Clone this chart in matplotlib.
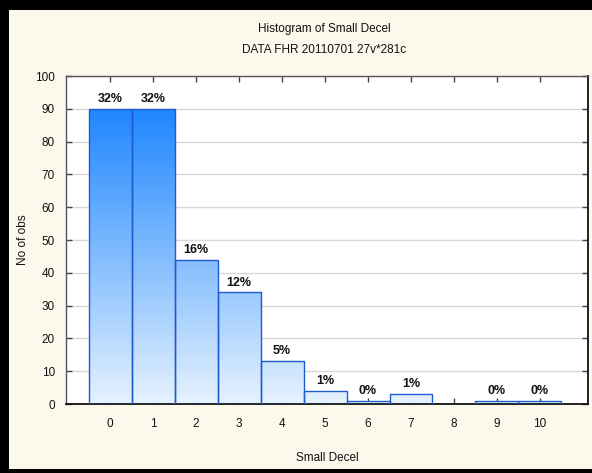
import numpy as np
import matplotlib.pyplot as plt
from matplotlib.colors import LinearSegmentedColormap
from matplotlib.patches import Rectangle

# histogram counts for Small Decel (281 cases)
categories = [0, 1, 2, 3, 4, 5, 6, 7, 8, 9, 10]
counts = [90, 90, 44, 34, 13, 4, 1, 3, 0, 1, 1]
yticks = [0, 10, 20, 30, 40, 50, 60, 70, 80, 90, 100]

total = sum(counts)
pct_labels = [f"{round(100 * c / total)}%" for c in counts]

plt.rcParams['font.family'] = ['Liberation Sans Narrow', 'Liberation Sans', 'DejaVu Sans']

bg = '#fdf8ec'
fig = plt.figure(figsize=(5.92, 4.73), dpi=100, facecolor=bg)
ax = fig.add_axes([66 / 592, 1 - 404 / 473, 522 / 592, 328 / 473])
ax.set_facecolor('white')

# vertical gradient: light at the base, bright blue at the top
cmap = LinearSegmentedColormap.from_list('bars', ['#e6f2ff', '#1e86fe'])
grad = np.linspace(0, 1, 256).reshape(-1, 1)

for x, c in zip(categories, counts):
    if c == 0:
        continue
    rect = Rectangle((x - 0.5, 0), 1.0, c, facecolor='none',
                     edgecolor='#1f5bd0', linewidth=1.0, zorder=3)
    ax.add_patch(rect)
    im = ax.imshow(grad, cmap=cmap, origin='lower', aspect='auto',
                   extent=(x - 0.5, x + 0.5, 0, 90), zorder=2,
                   interpolation='bilinear')
    im.set_clip_path(rect)

for x, c, lab in zip(categories, counts, pct_labels):
    if c == 0:
        continue
    ax.text(x, c + 1.2, lab, ha='center', va='bottom', fontsize=9,
            fontweight='bold', color='#111111', zorder=4)

ax.set_xlim(-1.03, 11.12)
ax.set_ylim(0, 100)
ax.set_xticks(categories)
ax.set_yticks(yticks)
ax.yaxis.grid(True, color='#d8d8d8', linewidth=1.0, zorder=1)
ax.set_axisbelow(True)

ax.tick_params(direction='in', length=4, width=1, color='#444444',
               top=True, right=True, labelsize=8.5, labelcolor='#111111')
ax.tick_params(axis='x', pad=10)
ax.tick_params(axis='y', pad=8)

for side in ['top', 'left']:
    ax.spines[side].set_color('#555555')
    ax.spines[side].set_linewidth(1.0)
for side in ['bottom', 'right']:
    ax.spines[side].set_color('#111111')
    ax.spines[side].set_linewidth(1.3)

ax.set_xlabel('Small Decel', fontsize=8.5, color='#111111')
ax.set_ylabel('No of obs', fontsize=8.5, color='#111111')
ax.xaxis.set_label_coords(0.5, -0.146)
ax.yaxis.set_label_coords(-0.07, 0.5)

fig.text(0.547, 1 - 29 / 473, 'Histogram of Small Decel', ha='center',
         va='center', fontsize=8.5, color='#111111')
fig.text(0.547, 1 - 50 / 473, 'DATA FHR 20110701 27v*281c', ha='center',
         va='center', fontsize=8.5, color='#111111')

# black frame around the image
fig.patches.append(Rectangle((0, 0), 9 / 592, 1, transform=fig.transFigure,
                             facecolor='black', edgecolor='none'))
fig.patches.append(Rectangle((0, 1 - 10 / 473), 1, 10 / 473, transform=fig.transFigure,
                             facecolor='black', edgecolor='none'))
fig.patches.append(Rectangle((0, 0), 1, 4 / 473, transform=fig.transFigure,
                             facecolor='black', edgecolor='none'))

fig.savefig('out.png', dpi=100, facecolor=bg)
